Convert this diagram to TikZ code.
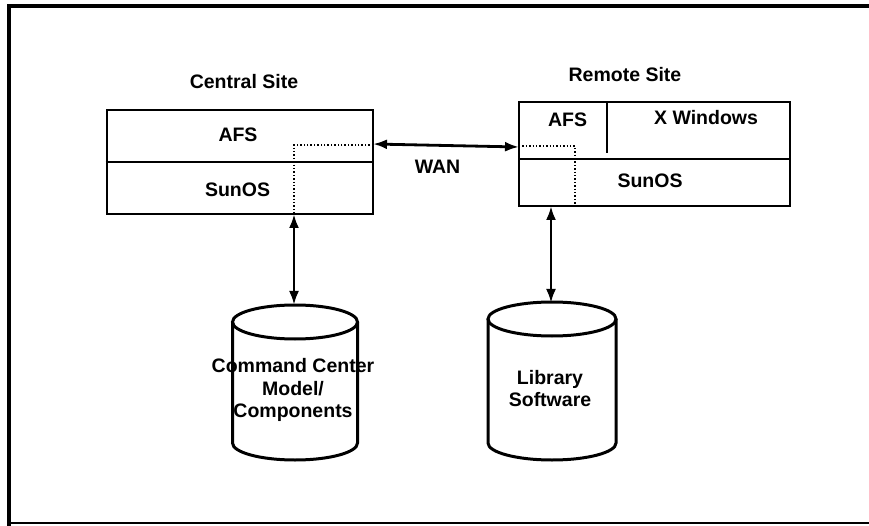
\documentclass[tikz,border=0pt]{standalone}
\usepackage{fontspec}
\setmainfont{Liberation Sans}
\usetikzlibrary{arrows.meta}
\tikzset{
  lbl/.style={font=\fontsize{19.5}{22.5}\selectfont\bfseries, inner sep=0pt},
  layerbox/.style={draw, line width=2.6pt, inner sep=0pt},
  link/.style={line width=2.8pt, {Latex[length=14pt,width=10pt]}-{Latex[length=14pt,width=10pt]}},
  dotpath/.style={line width=1.4pt, dotted},
  cyl/.style={line width=3pt},
}
\begin{document}
\begin{tikzpicture}[x=1pt,y=-1pt]
\useasboundingbox (0,0) rectangle (869,526);
% frame
\draw[line width=3.5pt] (869,6) -- (9,6) -- (9,526);
\draw[line width=2.5pt] (9,523) -- (869,523);

% central site
\node[lbl] (ctitle) at (244,82) {Central Site};
\node[layerbox, minimum width=266pt, minimum height=104pt] (cs) at (240,162) {};
\draw[line width=2.6pt] (cs.west) -- (cs.east);
\node[lbl] (cafs) at (238,135) {AFS};
\node[lbl] (csun) at (237.5,190) {SunOS};

% remote site
\node[lbl] (rtitle) at (625,75) {Remote Site};
\node[layerbox, minimum width=271pt, minimum height=104pt] (rs) at (654.5,154) {};
\coordinate (rdivl) at (519,159);
\coordinate (rdivr) at (790,159);
\draw[line width=2.6pt] (rdivl) -- (rdivr);
\coordinate (rvtop) at (607,102);
\coordinate (rvbot) at (607,153);
\draw[line width=2.6pt] (rvtop) -- (rvbot);
\node[lbl] (rafs) at (567.5,120) {AFS};
\node[lbl] (rxw) at (706,118) {X Windows};
\node[lbl] (rsun) at (650,181) {SunOS};

% WAN link
\coordinate (wl) at (373,144);
\coordinate (wr) at (519,147);
\draw[link] (wl) -- (wr);
\node[lbl] (wan) at (437.5,167) {WAN};

% dotted paths
\coordinate (cdot) at (294,145);
\coordinate (cdotb) at (294,214);
\draw[dotpath] (373,145) -- (cdot) -- (cdotb);
\coordinate (rdot) at (575,146);
\coordinate (rdotb) at (575,206);
\draw[dotpath] (519,146) -- (rdot) -- (rdotb);

% databases
\coordinate (db1top) at (294,305);
\draw[cyl] (232.5,322) -- (232.5,443) arc[start angle=180,end angle=360,x radius=62.5pt,y radius=17pt] -- (357.5,322);
\draw[cyl] (295,322) ellipse[x radius=62.5pt,y radius=17pt];
\node[lbl, align=center] (db1) at (293,390) {Command Center\\Model/\\Components};

\coordinate (db2top) at (551,303);
\draw[cyl] (488,319) -- (488,443) arc[start angle=180,end angle=360,x radius=64pt,y radius=17pt] -- (616,319);
\draw[cyl] (552,319) ellipse[x radius=64pt,y radius=17pt];
\node[lbl, align=center] (db2) at (550,388.5) {Library\\Software};

% vertical links
\coordinate (cbot) at (294,214);
\coordinate (rbot) at (551,206);
\draw[link] (cbot) -- (db1top);
\draw[link] (rbot) -- (db2top);
\end{tikzpicture}
\end{document}
